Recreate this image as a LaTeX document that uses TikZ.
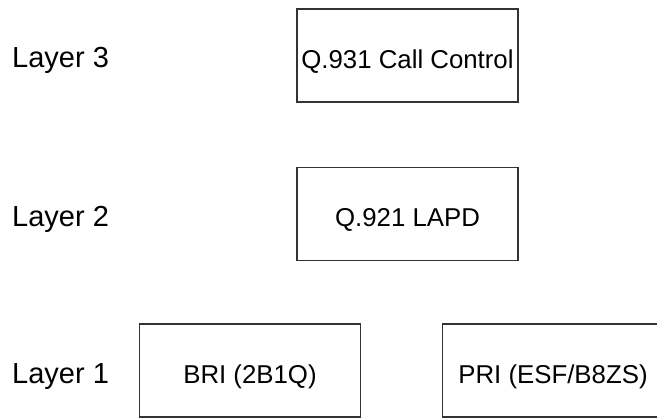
\documentclass[tikz,border=0pt]{standalone}
\usepackage{fontspec}
\setmainfont{Liberation Sans}
\usetikzlibrary{positioning}

\begin{document}
\begin{tikzpicture}[
      x=1pt, y=-1pt,
      box/.style={draw=black!80, line width=1.2pt, minimum width=221pt,
        minimum height=93pt, inner sep=0pt, text height=25.4pt, text depth=0pt,
        font=\fontsize{25.8}{31}\selectfont},
      lbl/.style={anchor=base west, inner sep=0pt, font=\fontsize{29}{34}\selectfont},
      node distance=64pt
    ]
    \useasboundingbox (0,0) rectangle (657,418);

    \node[box] (q931) at (407.5,55.5) {Q.931 Call Control};
    \node[box, below=64pt of q931] (q921) {Q.921 LAPD};
    \node[box] (bri) at (250,370.5) {BRI (2B1Q)};
    \node[box] (pri) at (553,370.5) {PRI (ESF/B8ZS)};

    \node[lbl] (layer3) at (12,67) {Layer 3};
    \node[lbl] (layer2) at (12,226) {Layer 2};
    \node[lbl] (layer1) at (12,383) {Layer 1};
  \end{tikzpicture}
\end{document}
